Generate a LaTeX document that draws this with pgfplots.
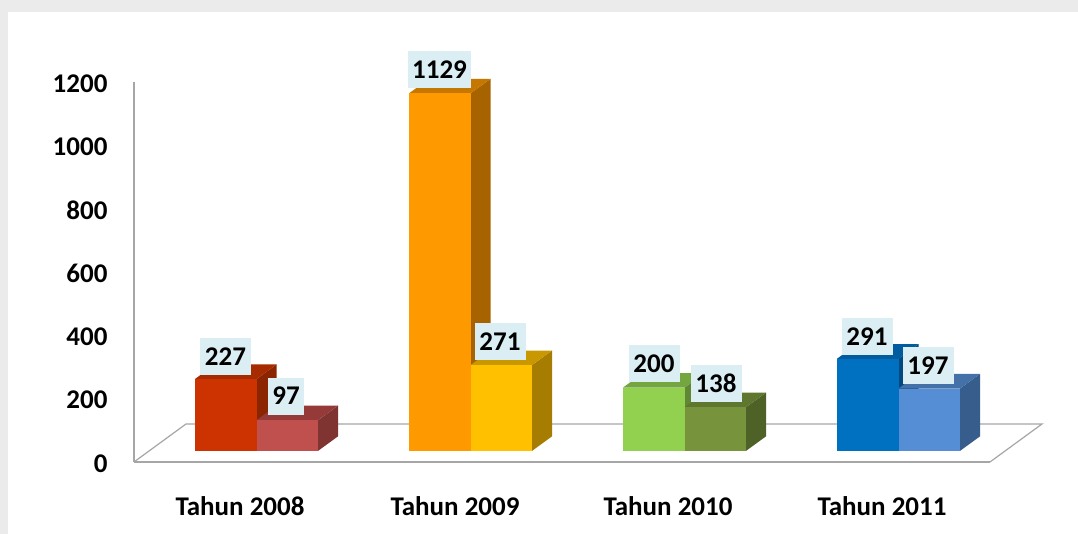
\documentclass[border=0pt]{standalone}
\usepackage{fontspec}
\setmainfont{Carlito}
\usepackage{pgfplots}
\pgfplotsset{compat=1.18}

% x axis is in picture pixels, y axis in chart values
% base lift of the bars above the floor line, and depth of the 3d faces
\newcommand{\baselift}{35}
\newcommand{\depthx}{20}
\newcommand{\depthy}{46}

% #1 left edge, #2 value, #3 front, #4 top, #5 side
\newcommand{\drawbar}[5]{%
  \pgfmathsetmacro{\xr}{#1+61.5}%
  \pgfmathsetmacro{\xrb}{\xr+\depthx}%
  \pgfmathsetmacro{\xlb}{#1+\depthx}%
  \pgfmathsetmacro{\yt}{#2+\baselift}%
  \pgfmathsetmacro{\ytb}{\yt+\depthy}%
  \pgfmathsetmacro{\ybb}{\baselift+\depthy}%
  \edef\tmp{%
    \noexpand\addplot[fill=#5,draw=none,forget plot] coordinates {(\xr,\baselift) (\xrb,\ybb) (\xrb,\ytb) (\xr,\yt)} --cycle;
    \noexpand\addplot[fill=#4,draw=none,forget plot] coordinates {(#1,\yt) (\xr,\yt) (\xrb,\ytb) (\xlb,\ytb)} --cycle;
    \noexpand\addplot[fill=#3,draw=none,forget plot] coordinates {(#1,\baselift) (\xr,\baselift) (\xr,\yt) (#1,\yt)} --cycle;
  }\tmp
}
% #1 centre x in pixels, #2 centre y in chart units, #3 text, #4 box width
\newcommand{\vlabel}[4]{%
  \node[fill=boxblue,inner sep=0pt,minimum width=#4pt,minimum height=37pt,
        font=\fontsize{27}{30}\selectfont\bfseries,text=black]
    at (axis cs:#1,#2) {#3};
}

\definecolor{boxblue}{HTML}{DAEEF3}
\definecolor{pagegray}{HTML}{EBEBEB}
\definecolor{floorgray}{HTML}{A6A6A6}
\definecolor{redF}{HTML}{CC3300}\definecolor{redT}{HTML}{A62B00}\definecolor{redS}{HTML}{8A2500}
\definecolor{roseF}{HTML}{C0504D}\definecolor{roseT}{HTML}{953A38}\definecolor{roseS}{HTML}{7F3431}
\definecolor{orgF}{HTML}{FF9900}\definecolor{orgT}{HTML}{C67700}\definecolor{orgS}{HTML}{A66300}
\definecolor{ambF}{HTML}{FFC000}\definecolor{ambT}{HTML}{C99700}\definecolor{ambS}{HTML}{A67D00}
\definecolor{limeF}{HTML}{92D050}\definecolor{limeT}{HTML}{74A640}\definecolor{limeS}{HTML}{5F8734}
\definecolor{oliveF}{HTML}{77933C}\definecolor{oliveT}{HTML}{5F762F}\definecolor{oliveS}{HTML}{4E6127}
\definecolor{bluF}{HTML}{0070C0}\definecolor{bluT}{HTML}{005C9E}\definecolor{bluS}{HTML}{004A80}
\definecolor{skyF}{HTML}{558ED5}\definecolor{skyT}{HTML}{4371A8}\definecolor{skyS}{HTML}{375D8C}

\begin{document}
\begin{tikzpicture}
\begin{axis}[
  scale only axis,
  width=856pt, height=380pt,
  xmin=134, xmax=990, ymin=0, ymax=1200,
  clip=false,
  axis on top,
  axis x line=bottom, axis y line=left,
  axis line style={floorgray,-,line width=1.2pt},
  xtick={240,455,668,882},
  xticklabels={Tahun 2008,Tahun 2009,Tahun 2010,Tahun 2011},
  ytick={0,200,400,600,800,1000,1200},
  major tick length=0pt,
  tick label style={font=\fontsize{27}{30}\selectfont\bfseries,text=black},
  /pgf/number format/assume math mode=true,
  /pgf/number format/1000 sep={},
  x tick label style={yshift=-31pt},
  y tick label style={xshift=-23pt,yshift=-1.5pt},
]
% page background and white panel (pixel box of the picture)
\addplot[fill=pagegray,draw=none,forget plot] coordinates {(0,-227.4) (1078,-227.4) (1078,1458.9) (0,1458.9)} --cycle;
\addplot[fill=white,draw=none,forget plot] coordinates {(8,-227.4) (1078,-227.4) (1078,1421) (8,1421)} --cycle;
% floor of the 3d chart
\addplot[draw=floorgray,line width=1.2pt,forget plot] coordinates {(134,0) (186,120) (1042,120) (990,0)};

\drawbar{195}{227}{redF}{redT}{redS}
\drawbar{256.5}{97}{roseF}{roseT}{roseS}
\drawbar{409}{1129}{orgF}{orgT}{orgS}
\drawbar{470.5}{271}{ambF}{ambT}{ambS}
\drawbar{623}{200}{limeF}{limeT}{limeS}
\drawbar{684.5}{138}{oliveF}{oliveT}{oliveS}
\drawbar{837}{291}{bluF}{bluT}{bluS}
\drawbar{898.5}{197}{skyF}{skyT}{skyS}

\vlabel{225.5}{333}{227}{51}
\vlabel{286}{208}{97}{36}
\vlabel{439.5}{1238}{1129}{63}
\vlabel{500}{380}{271}{51}
\vlabel{654}{310}{200}{51}
\vlabel{716}{248}{138}{51}
\vlabel{867}{397}{291}{51}
\vlabel{928}{305}{197}{51}
\end{axis}
\end{tikzpicture}
\end{document}
